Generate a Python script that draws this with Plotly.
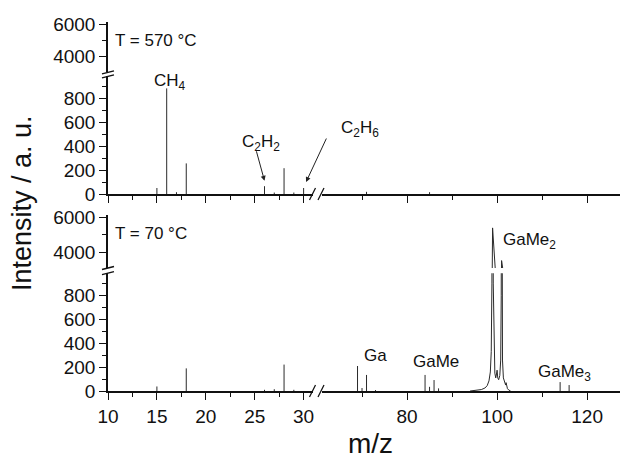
import plotly.graph_objects as go

W, H = 622, 461

# ---- data ----
# T = 570 °C : stick peaks
mz_570 = [15, 16, 17, 18, 26, 27, 28, 29, 30, 71, 85]
int_570 = [50, 880, 15, 255, 65, 12, 215, 12, 50, 18, 15]

# T = 70 °C : stick peaks
mz_70 = [15, 18, 26, 27, 28, 29, 69, 70, 71, 73, 84, 85, 86, 87, 114, 116]
int_70 = [38, 190, 10, 15, 222, 10, 210, 25, 135, 8, 135, 35, 92, 22, 75, 50]

# T = 70 °C : GaMe2 profile (broad peaks)
mz_game2 = [94.0, 95.5, 96.5, 97.3, 97.8, 98.2, 98.5, 98.7, 98.85, 98.95, 99.0, 99.05,
            99.15, 99.3, 99.5, 99.7, 99.85, 99.95, 100.0, 100.05, 100.15, 100.35, 100.6,
            100.8, 100.92, 101.0, 101.08, 101.2, 101.4, 101.7, 101.9, 102.0, 102.1, 102.3,
            102.6, 103.0]
int_game2 = [0, 5, 12, 25, 45, 85, 160, 330, 900, 2600, 5400, 2600,
             900, 330, 150, 110, 130, 160, 175, 150, 110, 95, 130,
             260, 800, 3550, 800, 260, 110, 60, 50, 70, 45, 20,
             8, 0]

x_left_tick_labels = ["10", "15", "20", "25", "30"]
x_right_tick_labels = ["80", "100", "120"]

# ---- helpers ----
def fx(p):
    return p / W

def fy(p):
    return 1 - p / H

def sticks(mz, inten):
    xs, ys = [], []
    for m, v in zip(mz, inten):
        xs += [m, m, None]
        ys += [0, v, None]
    return xs, ys

LINE = dict(color="#2a2a2a", width=1)
fig = go.Figure()

panels = [
    # (xaxes, yaxes, sticks, profile)
    (("x", "x2"), ("y", "y2"), sticks(mz_570, int_570), None),
    (("x3", "x4"), ("y3", "y4"), sticks(mz_70, int_70), (mz_game2, int_game2)),
]
for xs_ax, ys_ax, (sx, sy), prof in panels:
    for xa in xs_ax:
        for ya in ys_ax:
            fig.add_trace(go.Scatter(x=sx, y=sy, mode="lines", line=LINE,
                                     xaxis=xa, yaxis=ya, showlegend=False,
                                     hoverinfo="skip"))
            if prof is not None:
                fig.add_trace(go.Scatter(x=prof[0], y=prof[1], mode="lines", line=LINE,
                                         xaxis=xa, yaxis=ya, showlegend=False,
                                         hoverinfo="skip"))

FONT = dict(family="Liberation Sans, Arial, sans-serif", size=19, color="#111")
AX = dict(showline=True, linecolor="#111", linewidth=1.5, showgrid=False, zeroline=False,
          ticks="outside", ticklen=7, tickwidth=1.3, tickcolor="#111",
          tickfont=FONT, automargin=False, fixedrange=True)

xl_dom = [fx(108), fx(313.4)]
xr_dom = [fx(321.5), fx(620)]
xl_range = [10, 31]
xr_range = [61, 127.3]


def xleft(anchor, labels):
    return dict(AX, domain=xl_dom, range=xl_range, anchor=anchor,
                tickmode="array", tickvals=[10, 15, 20, 25, 30],
                ticktext=x_left_tick_labels, showticklabels=labels,
                minor=dict(ticks="outside", ticklen=4, tickwidth=1.2, tickcolor="#111",
                           tickmode="array", tickvals=[12.5, 17.5, 22.5, 27.5]))


def xright(anchor, labels):
    return dict(AX, domain=xr_dom, range=xr_range, anchor=anchor,
                tickmode="array", tickvals=[80, 100, 120],
                ticktext=x_right_tick_labels, showticklabels=labels,
                minor=dict(ticks="outside", ticklen=4, tickwidth=1.2, tickcolor="#111",
                           tickmode="array", tickvals=[70, 90, 110]))


def ylow(anchor, dom, rng):
    return dict(AX, domain=dom, range=rng, anchor=anchor,
                tickmode="array", tickvals=[0, 200, 400, 600, 800],
                minor=dict(ticks="outside", ticklen=4, tickwidth=1.2, tickcolor="#111",
                           tickmode="array", tickvals=[100, 300, 500, 700, 900]))


def yup(anchor, dom, rng):
    return dict(AX, domain=dom, range=rng, anchor=anchor,
                tickmode="array", tickvals=[4000, 6000],
                minor=dict(ticks="outside", ticklen=4, tickwidth=1.2, tickcolor="#111",
                           tickmode="array", tickvals=[5000]))


fig.update_layout(
    width=W, height=H, margin=dict(l=0, r=0, t=0, b=0),
    paper_bgcolor="white", plot_bgcolor="white", font=FONT,
    xaxis=xleft("y", False),
    xaxis2=xright("y", False),
    xaxis3=xleft("y3", True),
    xaxis4=xright("y3", True),
    yaxis=ylow("x", [fy(194), fy(76.4)], [0, 980]),
    yaxis2=yup("x", [fy(72.3), fy(21.9)], [3030, 6150]),
    yaxis3=ylow("x3", [fy(391), fy(273.2)], [0, 990]),
    yaxis4=yup("x3", [fy(268), fy(215)], [3130, 6130]),
)

# ---- axis break marks ----
shapes = []
def seg(x0, y0, x1, y1, w=1.3):
    shapes.append(dict(type="line", xref="paper", yref="paper",
                       x0=fx(x0), y0=fy(y0), x1=fx(x1), y1=fy(y1),
                       line=dict(color="#111", width=w)))

for yb_up, yb_lo in [(72.3, 76.4), (268, 273.2)]:
    seg(102, yb_up + 1.5, 114, yb_up - 1.5)
    seg(102, yb_lo + 1.5, 114, yb_lo - 1.5)
for y0 in [194, 391]:
    seg(309.5, y0 + 6, 315.5, y0 - 6)
    seg(318, y0 + 6, 324, y0 - 6)
fig.update_layout(shapes=shapes)

# ---- annotations ----
LFONT = dict(family="Liberation Sans, Arial, sans-serif", size=17, color="#111")
ann = []
def label(text, x, y, size=17, anchor="left", angle=0):
    ann.append(dict(text=text, xref="paper", yref="paper", x=fx(x), y=fy(y),
                    xanchor=anchor, yanchor="middle", showarrow=False,
                    textangle=angle, font=dict(LFONT, size=size)))

label("T = 570 °C", 113, 40)
label("T = 70 °C", 113, 233)
label("CH<sub>4</sub>", 152, 82)
label("C<sub>2</sub>H<sub>2</sub>", 240, 143)
label("C<sub>2</sub>H<sub>6</sub>", 339, 129)
label("Ga", 362, 355)
label("GaMe", 411, 361)
label("GaMe<sub>2</sub>", 501, 241)
label("GaMe<sub>3</sub>", 536, 373)
label("Intensity / a. u.", 22, 203, size=27, anchor="center", angle=-90)
label("m/z", 370, 443, size=28, anchor="center")

# arrows
ann.append(dict(text="", x=26, y=110, xref="x", yref="y", ax=-8.5, ay=-31,
                showarrow=True, arrowhead=2, arrowsize=1, arrowwidth=1, arrowcolor="#222"))
ann.append(dict(text="", x=30.25, y=100, xref="x", yref="y", ax=21, ay=-45,
                showarrow=True, arrowhead=2, arrowsize=1, arrowwidth=1, arrowcolor="#222"))
fig.update_layout(annotations=ann)

fig.write_html("out.html", config=dict(displayModeBar=False))
